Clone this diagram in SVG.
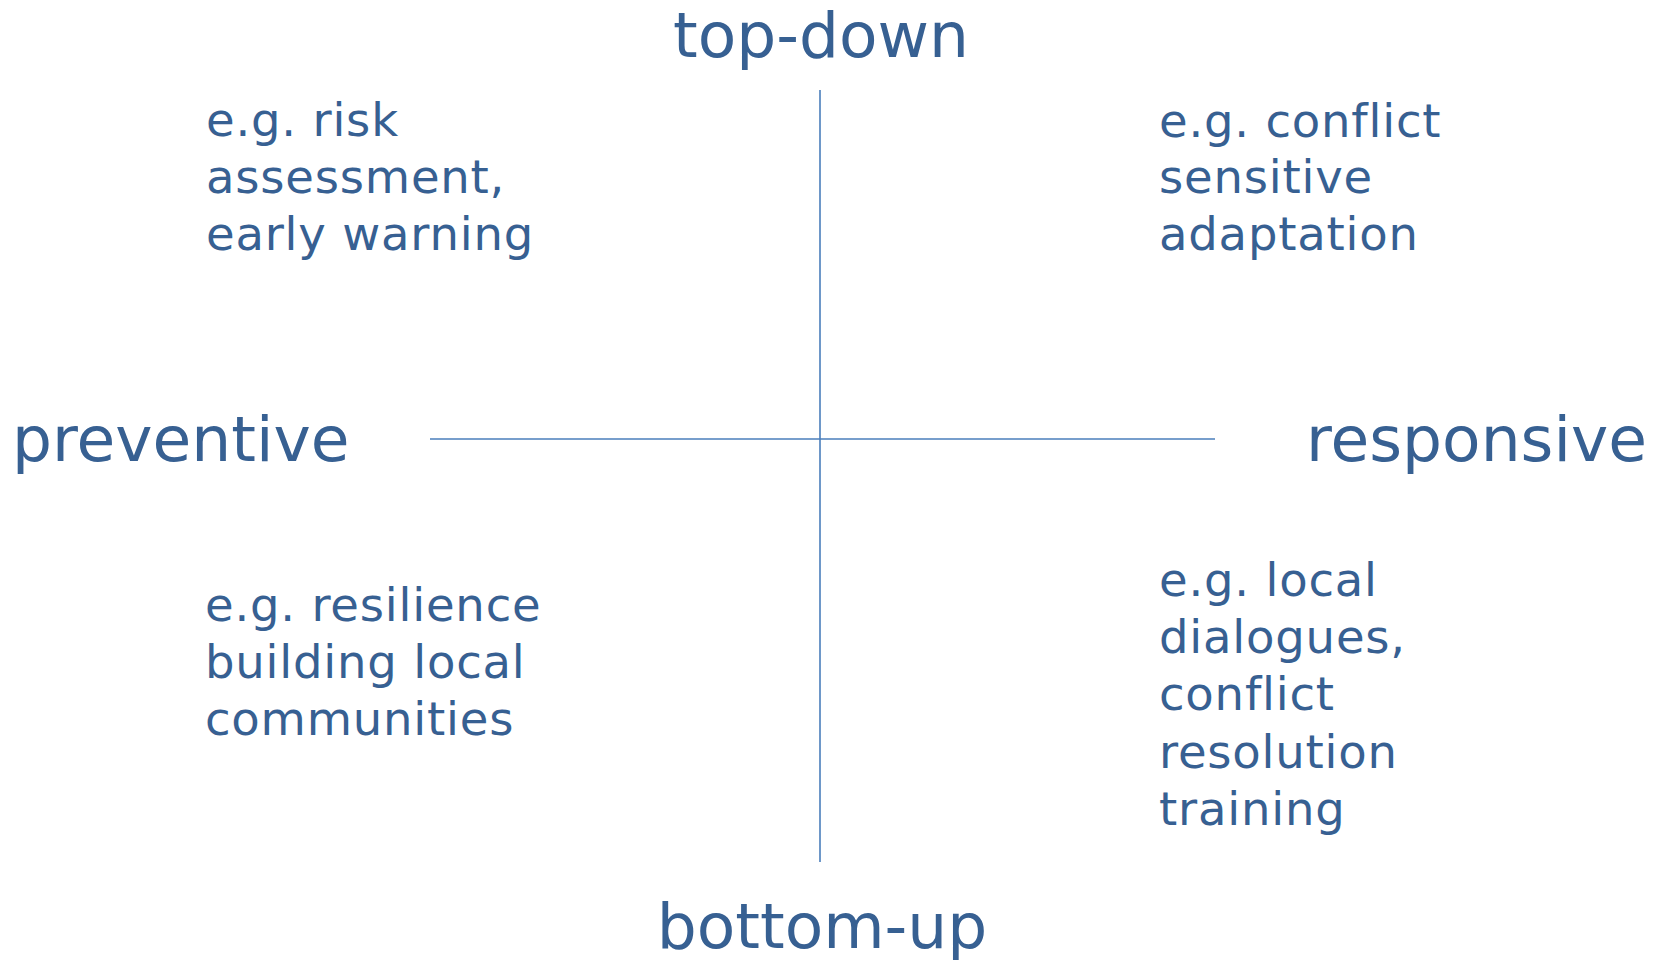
<svg xmlns="http://www.w3.org/2000/svg" width="1665" height="960" viewBox="0 0 1665 960">
<style>
.t{font-family:"DejaVu Sans",Verdana,sans-serif;fill:#376092}
.big{font-size:63px}
.small{font-size:46.5px;letter-spacing:0.8px}
.ax{stroke:#4A7EBB;stroke-width:1.6;fill:none}
</style>
<rect width="1665" height="960" fill="#ffffff"/>
<g id="connectors">
<line class="ax" x1="820" y1="90" x2="820" y2="862"/>
<line class="ax" x1="430" y1="439" x2="1215" y2="439"/>
</g>
<g id="top-down"><text class="t big" x="821" y="57" text-anchor="middle">top-down</text></g>
<g id="bottom-up"><text class="t big" x="822" y="948" text-anchor="middle">bottom-up</text></g>
<g id="preventive"><text class="t big" x="12" y="461">preventive</text></g>
<g id="responsive"><text class="t big" x="1306" y="461">responsive</text></g>
<g id="q-top-left"><text class="t small">
<tspan x="206" y="136">e.g. risk</tspan>
<tspan x="206" y="193">assessment,</tspan>
<tspan x="206" y="250">early warning</tspan>
</text></g>
<g id="q-top-right"><text class="t small">
<tspan x="1159" y="137">e.g. conflict</tspan>
<tspan x="1159" y="193">sensitive</tspan>
<tspan x="1159" y="250">adaptation</tspan>
</text></g>
<g id="q-bottom-left"><text class="t small">
<tspan x="205" y="621">e.g. resilience</tspan>
<tspan x="205" y="678">building local</tspan>
<tspan x="205" y="735">communities</tspan>
</text></g>
<g id="q-bottom-right"><text class="t small">
<tspan x="1159" y="596">e.g. local</tspan>
<tspan x="1159" y="653">dialogues,</tspan>
<tspan x="1159" y="710">conflict</tspan>
<tspan x="1159" y="768">resolution</tspan>
<tspan x="1159" y="825">training</tspan>
</text></g>
</svg>
